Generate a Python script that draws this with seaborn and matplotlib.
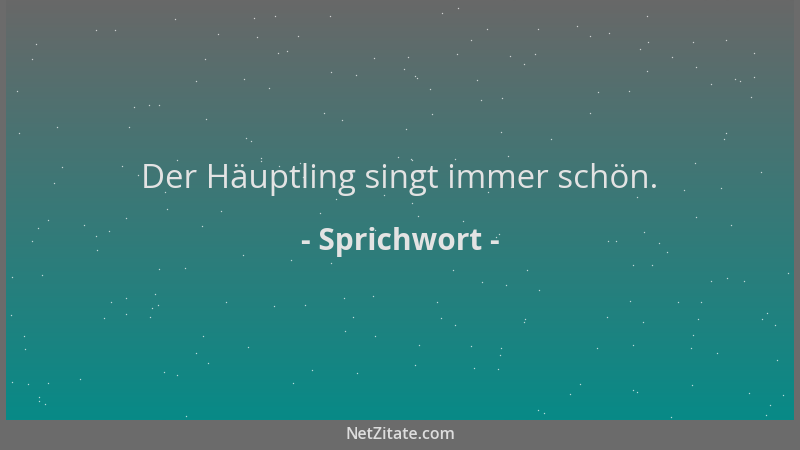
import numpy as np
import matplotlib
matplotlib.use("Agg")
import matplotlib.pyplot as plt
from matplotlib.colors import LinearSegmentedColormap
import seaborn as sns

quote = "Der Häuptling singt immer schön."
author = "- Sprichwort -"
footer = "NetZitate.com"

top_color = "#686868"
bottom_color = "#088a87"
frame_color = "#6b6b6b"
text_color = "#e3e3e3"

sns.set_theme(style="white")
plt.rcParams['font.family'] = ['Open Sans', 'DejaVu Sans']

fig = plt.figure(figsize=(8, 4.5), dpi=100)
fig.patch.set_facecolor(frame_color)
ax = fig.add_axes([0, 0, 1, 1])
ax.set_xlim(0, 800)
ax.set_ylim(450, 0)
ax.axis("off")

# gradient panel
cmap = LinearSegmentedColormap.from_list("bg", [top_color, bottom_color])
grad = np.linspace(0, 1, 256).reshape(-1, 1)
ax.imshow(grad, cmap=cmap, aspect="auto", extent=[6, 794, 420, 0], zorder=0)

# faint star texture
rng = np.random.default_rng(7)
sx = rng.uniform(8, 792, 220)
sy = rng.uniform(2, 418, 220)
ax.scatter(sx, sy, s=1.0, color="white", alpha=0.7, linewidths=0, zorder=1)

ax.text(400, 180, quote, ha="center", va="center", fontsize=23.8,
        fontweight="medium", color=text_color, zorder=2)
ax.text(400, 242, author, ha="center", va="center", fontsize=21.5,
        fontweight="bold", color=text_color, zorder=2)
ax.text(400, 435, footer, ha="center", va="center", fontsize=11.5,
        fontweight="semibold", color="#dddddd", zorder=2)

fig.savefig("out.png", dpi=100, facecolor=frame_color)
